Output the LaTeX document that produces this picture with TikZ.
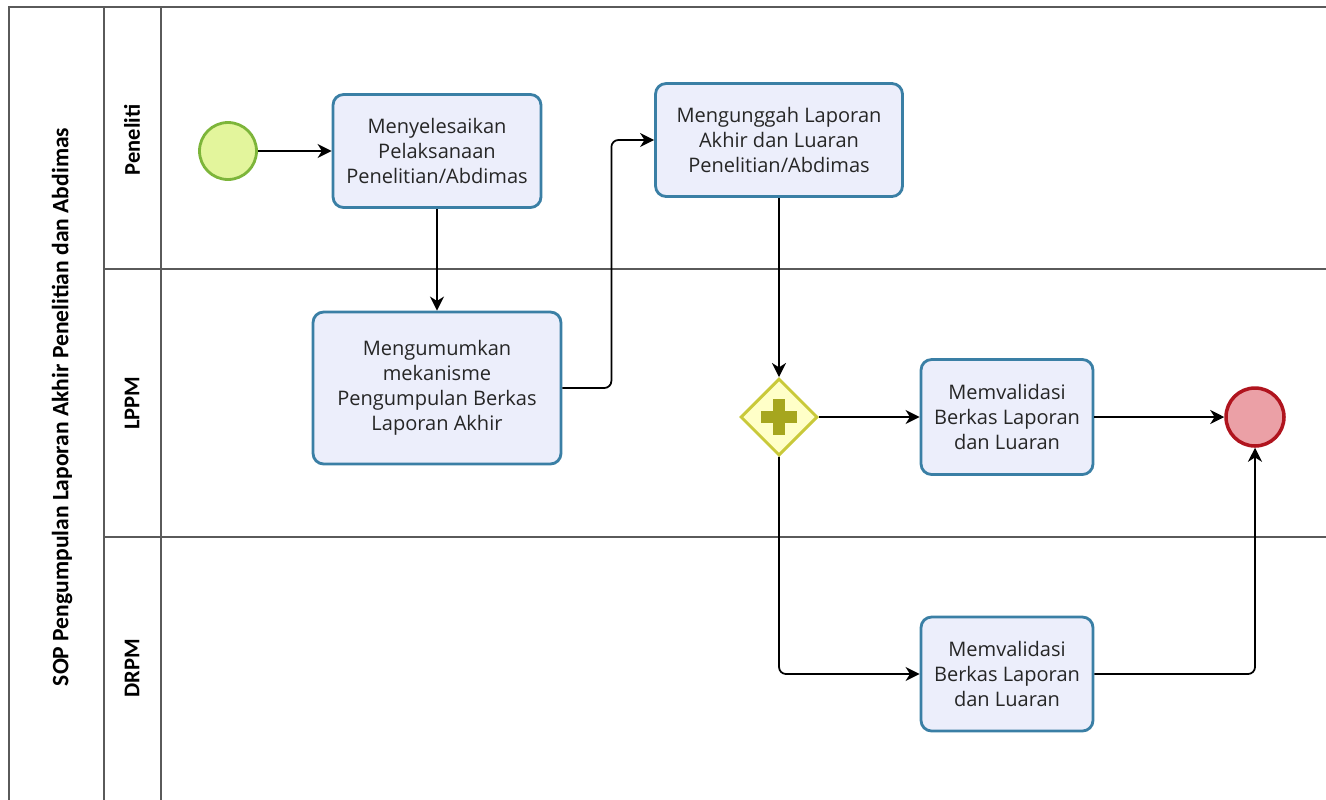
\documentclass[tikz,border=0pt]{standalone}
\usepackage{fontspec}
\setmainfont{Open Sans}
\newfontfamily\lanefont{Carlito}
\usetikzlibrary{shapes.geometric, arrows.meta}

\definecolor{taskfill}{HTML}{ECEEFB}
\definecolor{taskline}{HTML}{3A7FA5}
\definecolor{startfill}{HTML}{E3F59C}
\definecolor{startline}{HTML}{7DB53A}
\definecolor{endfill}{HTML}{EBA0A6}
\definecolor{endline}{HTML}{B0141E}
\definecolor{gwfill}{HTML}{FFFFC8}
\definecolor{gwline}{HTML}{C9C93A}
\definecolor{gwplus}{HTML}{A6A61E}
\definecolor{poolline}{HTML}{5A5A5A}

\tikzset{
    task/.style={draw=taskline, fill=taskfill, line width=1.6pt, rounded corners=6pt,
        align=center, text=black!85, font=\fontsize{11.4}{14.2}\selectfont},
    startevent/.style={circle, draw=startline, fill=startfill, line width=1.6pt, minimum size=1.14cm},
    endevent/.style={circle, draw=endline, fill=endfill, line width=2pt, minimum size=1.16cm},
    gateway/.style={diamond, aspect=1, draw=gwline, fill=gwfill, line width=1.7pt,
        minimum width=1.54cm, minimum height=1.54cm, inner sep=0pt},
    flow/.style={-{Stealth[length=8pt, width=8pt, inset=2.5pt]}, line width=1pt, black},
    lane/.style={line width=0.9pt, poolline},
    lanelabel/.style={rotate=90, font=\lanefont\bfseries\fontsize{12.8}{14}\selectfont}
}

\begin{document}
\begin{tikzpicture}[x=0.02cm, y=-0.02cm]
    % 1. Batas gambar
    \useasboundingbox (0,0) rectangle (1326,799);

    % 2. Pool dan lane
    \draw[lane] (1326,7) -- (9,7) -- (9,810);
    \draw[lane] (104,7) -- (104,810);
    \draw[lane] (161,7) -- (161,810);
    \draw[lane] (104,269) -- (1326,269);
    \draw[lane] (104,537) -- (1326,537);

    % Label pool dan lane
    \node[lanelabel, font=\lanefont\bfseries\fontsize{13.4}{15}\selectfont] (pool) at (62,407)
        {SOP Pengumpulan Laporan Akhir Penelitian dan Abdimas};
    \node[lanelabel] (peneliti) at (132,140) {Peneliti};
    \node[lanelabel] (lppm) at (132,403) {LPPM};
    \node[lanelabel] (drpm) at (132,668) {DRPM};

    % 3. Event dan aktivitas
    \node[startevent] (start) at (228,151) {};
    \node[task, minimum width=4.16cm, minimum height=2.26cm] (selesai) at (437,151)
        {Menyelesaikan\\Pelaksanaan\\Penelitian/Abdimas};
    \node[task, minimum width=4.96cm, minimum height=3.04cm] (umumkan) at (437,388)
        {Mengumumkan\\mekanisme\\Pengumpulan Berkas\\Laporan Akhir};
    \node[task, minimum width=4.94cm, minimum height=2.26cm] (unggah) at (779,140)
        {Mengunggah Laporan\\Akhir dan Luaran\\Penelitian/Abdimas};
    \node[gateway] (gw) at (779,417) {};
    \node[task, minimum width=3.44cm, minimum height=2.3cm] (validlppm) at (1007,417)
        {Memvalidasi\\Berkas Laporan\\dan Luaran};
    \node[task, minimum width=3.44cm, minimum height=2.28cm] (validdrpm) at (1007,674)
        {Memvalidasi\\Berkas Laporan\\dan Luaran};
    \node[endevent] (end) at (1255,417) {};

    % Tanda plus pada gateway
    \fill[gwplus] ([shift={(-18,-6)}]gw.center) rectangle ([shift={(18,6)}]gw.center);
    \fill[gwplus] ([shift={(-6,-18)}]gw.center) rectangle ([shift={(6,18)}]gw.center);

    % 4. Alur
    \draw[flow] (start) -- (selesai);
    \draw[flow] (selesai) -- (umumkan);
    \draw[flow, rounded corners=4pt] (umumkan.east) -- ++(49,0) |- (unggah.west);
    \draw[flow] (unggah) -- (gw);
    \draw[flow] (gw) -- (validlppm);
    \draw[flow, rounded corners=4pt] (gw.south) |- (validdrpm.west);
    \draw[flow] (validlppm) -- (end);
    \draw[flow, rounded corners=4pt] (validdrpm.east) -| (end.south);
\end{tikzpicture}
\end{document}
